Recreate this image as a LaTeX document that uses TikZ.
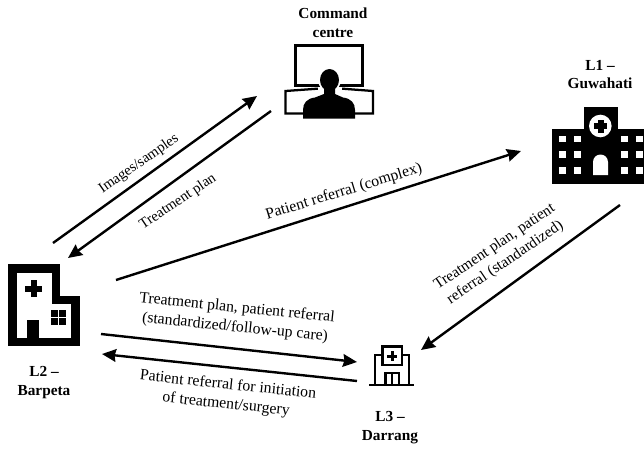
\documentclass[tikz,border=0pt]{standalone}
\usepackage{fontspec}
\setmainfont{Liberation Serif}
\usetikzlibrary{arrows.meta}
\tikzset{
  flowarrow/.style={line width=1.8pt,-{Stealth[length=10.5pt,width=9.5pt,inset=1pt]}},
  placelabel/.style={font=\fontsize{11.5}{14.2}\selectfont\bfseries,align=center},
  flowlabel/.style={font=\fontsize{11.8}{14.6}\selectfont,align=center},
  iconline/.style={line width=1.7pt,line join=miter},
}
\begin{document}
\begin{tikzpicture}[x=0.75pt,y=-0.75pt]
  \useasboundingbox (0,0) rectangle (644,450);
  % Place names
  \node[placelabel] (centrelabel) at (333,22.5) {Command\\centre};
  \node[placelabel] (guwahatilabel) at (600,74.5) {L1 --\\Guwahati};
  \node[placelabel] (barpetalabel) at (44,383) {L2 --\\Barpeta};
  \node[placelabel] (darranglabel) at (390,427.5) {L3 --\\Darrang};
  % Command centre
  \draw[iconline] (295.5,45.5) rectangle (362.5,85.5);
  \draw[iconline] (320,88.5) -- (285.5,91) -- (285.5,113.5) -- (310,113.5);
  \draw[iconline] (340,88.5) -- (373,91) -- (373,113.5) -- (350,113.5);
  \fill[white] (318,86.7) rectangle (342,100);
  \fill[white] (329.5,79.5) ellipse (11.5 and 13);
  \fill (329.5,80) ellipse (9.5 and 11);
  \fill (324,85) -- (335,85) -- (335,94) -- (343,97.5)
    .. controls (351,98.5) and (355,103) .. (355,110) -- (355,118.5) -- (303,118.5) -- (303,110)
    .. controls (303,103) and (307,98.5) .. (315,97.5) -- (324,94) -- cycle;
  % L1 hospital
  \fill (552,129) rectangle (644,183.5);
  \fill (583.5,107) rectangle (618,130);
  \fill[white] (600.3,126) circle (11.3);
  \fill (597.5,119.5) rectangle (603.5,132.5);
  \fill (594,123) rectangle (607,129);
  \foreach \wx in {559,574,621,636} {
    \foreach \wy in {135.5,151,167} {
      \fill[white] (\wx,\wy) rectangle ++(6.5,6.5);
    }
  }
  \fill[white] (593,175) -- (593,162) arc (180:360:7.5) -- (608,175) -- cycle;
  % L2 hospital
  \draw[line width=6.5pt,line join=miter] (12.8,268.8) -- (56,268.8) -- (56,300) -- (75.5,300) -- (75.5,342) -- (12.8,342) -- cycle;
  \fill (27,320) rectangle (39,345);
  \fill (30.5,280) rectangle (36.5,297);
  \fill (25,285.5) rectangle (42,291.5);
  \fill (51,310) rectangle (66,325);
  \draw[white,line width=0.8pt] (58.5,310) -- (58.5,325) (51,317.5) -- (66,317.5);
  % L3 hospital
  \draw[iconline] (369,385) -- (414,385);
  \draw[iconline] (375,385) -- (375,355) -- (382,355);
  \draw[iconline] (402,355) -- (409,355) -- (409,385);
  \draw[iconline] (382.5,346.5) rectangle (402,365);
  \fill (390.5,351) rectangle (393.5,361);
  \fill (387,354.5) rectangle (397,357.5);
  \draw[iconline] (385.5,385) -- (385.5,373) -- (399,373) -- (399,385);
  \draw[line width=1.3pt] (392.2,373) -- (392.2,385);
  % Arrow ends
  \coordinate (imagesstart) at (53,243);
  \coordinate (imagesend) at (257,96);
  \coordinate (planstart) at (271,111);
  \coordinate (planend) at (68,258);
  \coordinate (complexstart) at (116,280);
  \coordinate (complexend) at (521,151);
  \coordinate (standardstart) at (620,205);
  \coordinate (standardend) at (421,350);
  \coordinate (followstart) at (101,334);
  \coordinate (followend) at (357,362);
  \coordinate (surgerystart) at (357,381);
  \coordinate (surgeryend) at (102,354);
  \draw[flowarrow] (imagesstart) -- (imagesend);
  \draw[flowarrow] (planstart) -- (planend);
  \draw[flowarrow] (complexstart) -- (complexend);
  \draw[flowarrow] (standardstart) -- (standardend);
  \draw[flowarrow] (followstart) -- (followend);
  \draw[flowarrow] (surgerystart) -- (surgeryend);
  % Arrow labels
  \node[flowlabel,rotate=35,font=\fontsize{11}{14}\selectfont] (imageslabel) at (139,164) {Images/samples};
  \node[flowlabel,rotate=34,font=\fontsize{11}{14}\selectfont] (planlabel) at (178,202) {Treatment plan};
  \node[flowlabel,rotate=17] (complexlabel) at (344,192) {Patient referral (complex)};
  \node[flowlabel,rotate=34,font=\fontsize{11.5}{14.2}\selectfont] (standardlabel) at (500,255) {Treatment plan, patient\\referral (standardized)};
  \node[flowlabel,rotate=-5.8] (followlabel) at (236,318) {Treatment plan, patient referral\\(standardized/follow-up care)};
  \node[flowlabel,rotate=-6] (surgerylabel) at (227,395) {Patient referral for initiation\\of treatment/surgery};
\end{tikzpicture}
\end{document}
